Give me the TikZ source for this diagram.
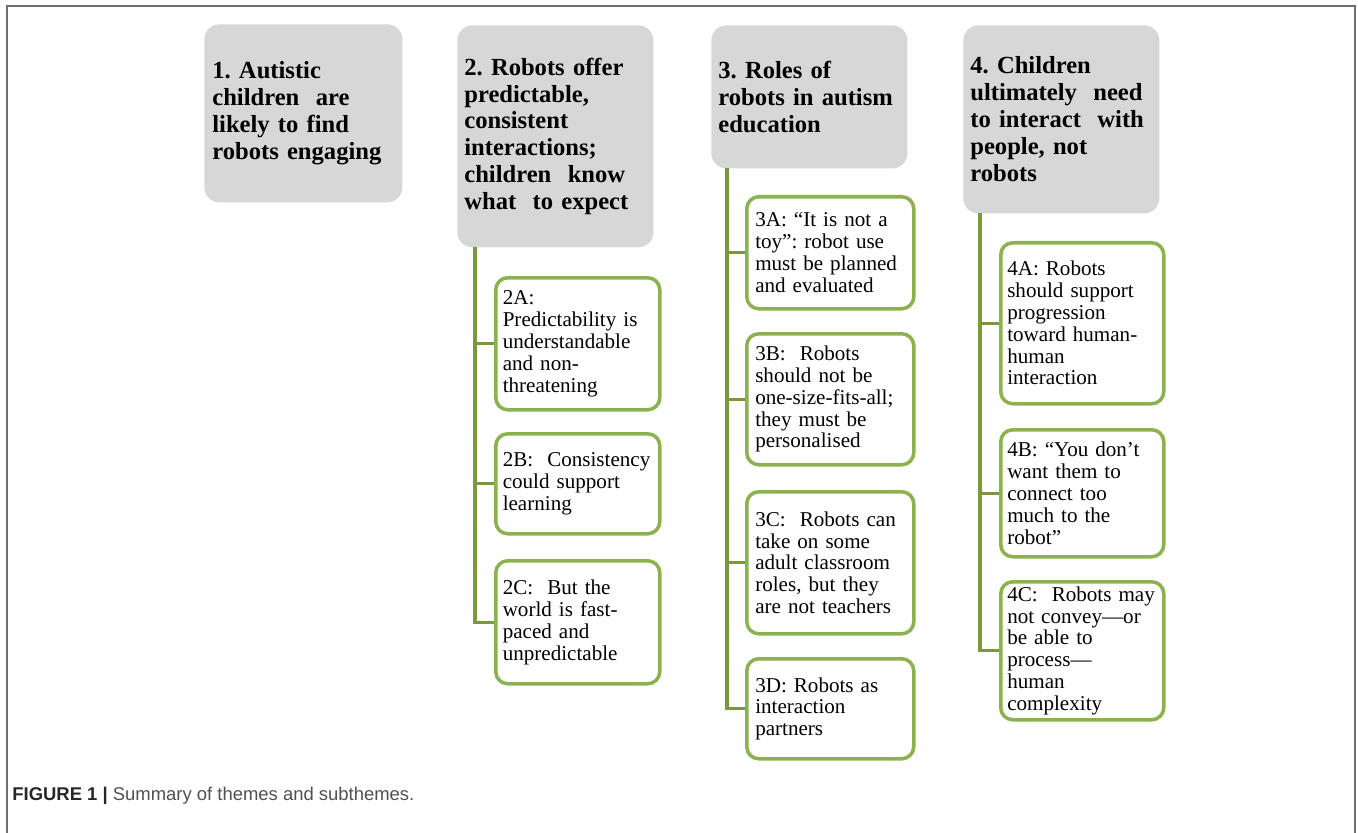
\documentclass[tikz,border=0pt]{standalone}
\usepackage{fontspec}
\setmainfont{Liberation Serif}
\setsansfont{Liberation Sans}
\usepackage{tikz}
\frenchspacing

\definecolor{headgray}{RGB}{215,215,215}
\definecolor{subgreen}{RGB}{140,178,80}
\definecolor{trunkgreen}{RGB}{122,152,62}
\definecolor{framegray}{RGB}{110,110,110}
\definecolor{capgray}{RGB}{80,80,80}

\begin{document}
\begin{tikzpicture}
        \tikzstyle{every node} = [rectangle, anchor=north west, inner sep=0pt]
        \tikzstyle{theme} = [fill=headgray, rounded corners=0.3cm, align=left, text width=3.64cm,
            inner xsep=0.14cm, font=\bfseries\fontsize{14}{15.3}\selectfont]
        \tikzstyle{sub} = [draw=subgreen, line width=2pt, fill=white, rounded corners=0.24cm,
            align=left, text width=3.0cm, inner xsep=0.13cm, font=\fontsize{12}{12.4}\selectfont]
        \tikzstyle{trunk} = [draw=trunkgreen, line width=1.8pt]
        \useasboundingbox (0,0) rectangle (27.16,-16.66);
        \draw[framegray, line width=1pt] (0.14,-16.66) |- (27.1,-0.12) -- (27.1,-16.66);
        % themes
        \node[theme, minimum width=3.96cm, minimum height=3.56cm] (h1) at (4.08,-0.48)
            {1. Autistic\\children\ \ are\\likely to find\\robots engaging};
        \node[theme, minimum width=3.92cm, minimum height=4.44cm] (h2) at (9.14,-0.5)
            {2. Robots offer\\predictable,\\consistent\\interactions;\\children\ \ know\\what\ \ to expect};
        \node[theme, minimum width=3.9cm, minimum height=2.86cm] (h3) at (14.22,-0.5)
            {3. Roles of\\robots in autism\\education};
        \node[theme, minimum width=3.9cm, minimum height=3.76cm] (h4) at (19.26,-0.5)
            {4. Children\\ultimately\ \ need\\to interact\ \ with\\people, not\\robots};
        % subthemes
        \node[sub, minimum width=3.28cm, minimum height=2.64cm] (s2a) at (9.88,-5.52)
            {2A:\\Predictability is\\understandable\\and non-\\threatening};
        \node[sub, minimum width=3.28cm, minimum height=2.0cm] (s2b) at (9.88,-8.64)
            {2B:\ \ Consistency\\could support\\learning};
        \node[sub, minimum width=3.28cm, minimum height=2.46cm] (s2c) at (9.88,-11.18)
            {2C:\ \ But the\\world is fast-\\paced and\\unpredictable};
        \node[sub, minimum width=3.34cm, minimum height=2.24cm] (s3a) at (14.9,-3.9)
            {3A: ``It is not a\\toy'': robot use\\must be planned\\and evaluated};
        \node[sub, minimum width=3.34cm, minimum height=2.62cm] (s3b) at (14.9,-6.64)
            {3B:\ \ Robots\\should not be\\one-size-fits-all;\\they must be\\personalised};
        \node[sub, minimum width=3.34cm, minimum height=2.84cm] (s3c) at (14.9,-9.8)
            {3C:\ \ Robots can\\take on some\\adult classroom\\roles, but they\\are not teachers};
        \node[sub, minimum width=3.34cm, minimum height=2.0cm] (s3d) at (14.9,-13.14)
            {3D: Robots as\\interaction\\partners};
        \node[sub, minimum width=3.26cm, minimum height=3.22cm] (s4a) at (19.98,-4.82)
            {4A: Robots\\should support\\progression\\toward human-\\human\\interaction};
        \node[sub, minimum width=3.26cm, minimum height=2.54cm] (s4b) at (19.98,-8.56)
            {4B: ``You don't\\want them to\\connect too\\much to the\\robot''};
        \node[sub, minimum width=3.26cm, minimum height=2.76cm] (s4c) at (19.98,-11.6)
            {4C:\ \ Robots may\\not convey---or\\be able to\\process---\\human\\complexity};
        % trunks
        \coordinate (t2) at (9.5,-4.94);
        \coordinate (t3) at (14.54,-3.36);
        \coordinate (t4) at (19.6,-4.26);
        \foreach \top/\last in {t2/s2c, t3/s3d, t4/s4c}
            \draw[trunk] (\top) |- (\last.west);
        \foreach \top/\sub in {t2/s2a, t2/s2b, t3/s3a, t3/s3b, t3/s3c, t4/s4a, t4/s4b}
            \draw[trunk] (\top |- \sub.west) -- (\sub.west);
        % caption
        \node[anchor=base west, font=\sffamily\fontsize{10.5}{12.5}\selectfont, text=capgray] (cap) at (0.24,-16.0)
            {\textbf{\color{black!85}FIGURE 1 |} Summary of themes and subthemes.};
    \end{tikzpicture}
\end{document}
